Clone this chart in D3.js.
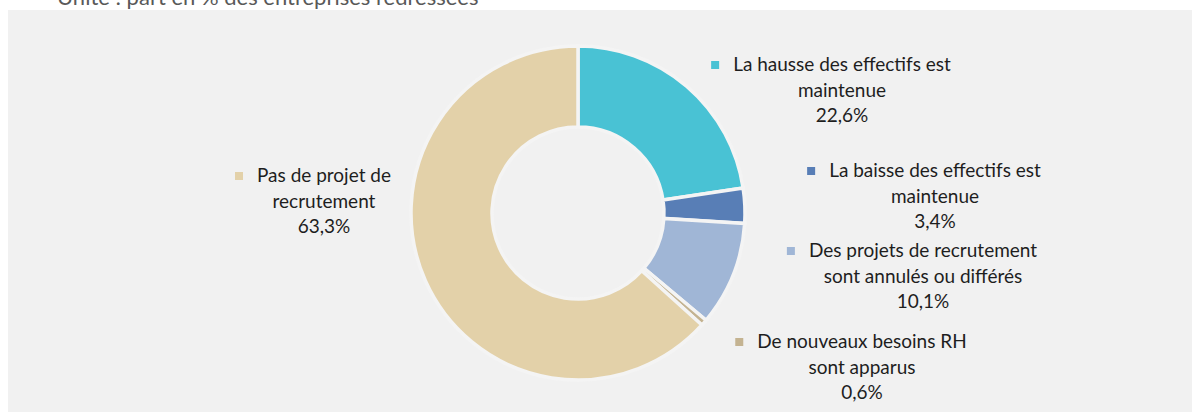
<!DOCTYPE html>
<html>
<head>
<meta charset="utf-8">
<script src="https://cdn.jsdelivr.net/npm/d3@7"></script>
<style>
  body { margin: 0; background: #ffffff; }
  svg { display: block; }
</style>
</head>
<body>
<svg width="1192" height="412"></svg>
<script>
// data
const categories = [
  "La hausse des effectifs est maintenue",
  "La baisse des effectifs est maintenue",
  "Des projets de recrutement sont annulés ou différés",
  "De nouveaux besoins RH sont apparus",
  "Pas de projet de recrutement"
];
const values = [22.6, 3.4, 10.1, 0.6, 63.3];
const labelLines = [
  ["La hausse des effectifs est", "maintenue"],
  ["La baisse des effectifs est", "maintenue"],
  ["Des projets de recrutement", "sont annulés ou différés"],
  ["De nouveaux besoins RH", "sont apparus"],
  ["Pas de projet de", "recrutement"]
];
const colors = ["#49c2d4", "#587eb6", "#a0b6d6", "#c4b391", "#e3d1a9"];

const fmt = v => v.toFixed(1).replace(".", ",") + "%";

let width = 1192, height = 412;
const svg = d3.select("svg");

// panel
svg.append("rect")
  .attr("x", 8).attr("y", 10)
  .attr("width", width - 8).attr("height", height - 10)
  .attr("fill", "#f1f1f1");

// cut off subtitle at the top
svg.append("text")
  .attr("x", 57).attr("y", 5)
  .attr("fill", "#595959")
  .style("font-family", "Lato, 'Open Sans', sans-serif")
  .style("font-size", "22px")
  .text("Unité : part en % des entreprises redressées");

const cx = 578, cy = 213;
const outerR = 167, innerR = 86;

const pie = d3.pie().sort(null).value(d => d);
const arc = d3.arc().innerRadius(innerR).outerRadius(outerR);

const g = svg.append("g").attr("transform", `translate(${cx},${cy})`);
g.selectAll("path")
  .data(pie(values))
  .enter().append("path")
    .attr("d", arc)
    .attr("fill", (d, i) => colors[i])
    .attr("stroke", "#f4f4f4")
    .attr("stroke-width", 3.5)
    .attr("stroke-linejoin", "miter");

// label anchors: center x of text block and baseline of first line
const labelPos = [
  {x: 842, y: 71},
  {x: 935, y: 177},
  {x: 923, y: 257},
  {x: 862, y: 348},
  {x: 324, y: 182}
];
const lineH = 25.5;

const labels = svg.append("g")
  .style("font-family", "Lato, 'Open Sans', sans-serif")
  .style("font-size", "19px")
  .attr("fill", "#1e1e1e");

labelLines.forEach(function(lines, i) {
  const p = labelPos[i];
  const all = lines.concat([fmt(values[i])]);
  const t = labels.append("text").attr("text-anchor", "middle");
  all.forEach(function(s, j) {
    t.append("tspan").attr("x", p.x).attr("y", p.y + j * lineH).text(s);
  });
  // marker square left of first line
  const w = t.select("tspan").node().getComputedTextLength();
  labels.append("rect")
    .attr("x", p.x - w / 2 - 22).attr("y", p.y - 10)
    .attr("width", 8).attr("height", 8)
    .attr("fill", colors[i]);
});
</script>
</body>
</html>
